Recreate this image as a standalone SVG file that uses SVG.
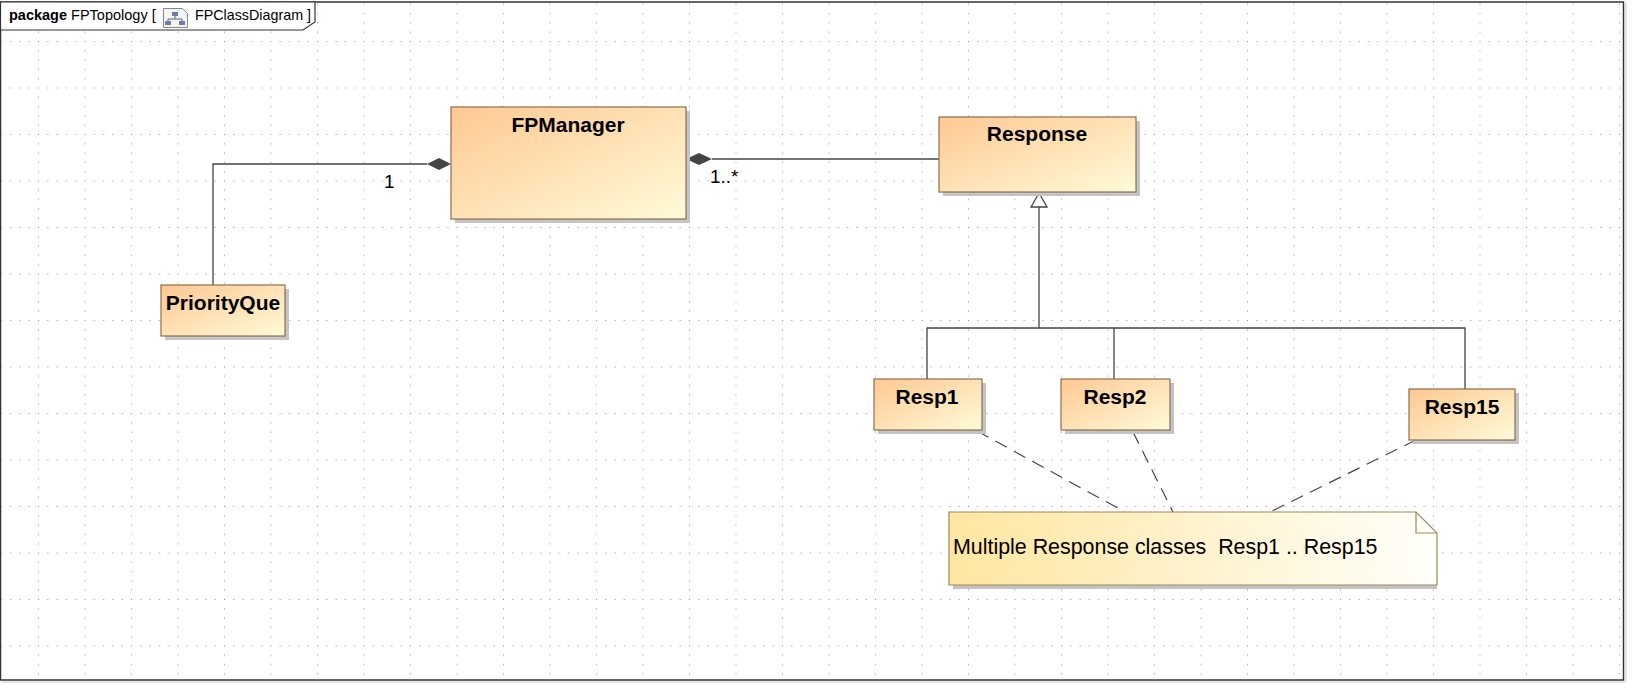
<svg xmlns="http://www.w3.org/2000/svg" width="1640" height="693" viewBox="0 0 1640 693">
<style>
.cls{stroke:#8e6e4e;stroke-width:1.2;fill:url(#cg)}
.sh{fill:#c4c4c4}
.name{font-family:"Liberation Sans",Arial,sans-serif;font-weight:bold;font-size:21px;fill:#000;text-anchor:middle}
.lbl{font-family:"Liberation Sans",Arial,sans-serif;font-size:19px;fill:#000}
.note{font-family:"Liberation Sans",Arial,sans-serif;font-size:21.4px;fill:#000}
.ln{stroke:#444;stroke-width:1.3;fill:none}
.dash{stroke:#444;stroke-width:1.2;fill:none;stroke-dasharray:13,8}
</style>
<defs>
<linearGradient id="cg" x1="0" y1="0" x2="1" y2="1">
<stop offset="0" stop-color="#fec893"/>
<stop offset="1" stop-color="#fffbd8"/>
</linearGradient>
<linearGradient id="ng" x1="0" y1="0" x2="1" y2="0">
<stop offset="0" stop-color="#ffe6a0"/>
<stop offset="1" stop-color="#fffffa"/>
</linearGradient>
<pattern id="grid" patternUnits="userSpaceOnUse" x="38" y="41" width="46.5" height="46.5">
<rect x="0" y="0" width="1" height="1" fill="#8a8a8a"/>
<rect x="9.3" y="0" width="1" height="1" fill="#8a8a8a"/>
<rect x="18.6" y="0" width="1" height="1" fill="#8a8a8a"/>
<rect x="27.9" y="0" width="1" height="1" fill="#8a8a8a"/>
<rect x="37.2" y="0" width="1" height="1" fill="#8a8a8a"/>
<rect x="0" y="9.3" width="1" height="1" fill="#8a8a8a"/>
<rect x="0" y="18.6" width="1" height="1" fill="#8a8a8a"/>
<rect x="0" y="27.9" width="1" height="1" fill="#8a8a8a"/>
<rect x="0" y="37.2" width="1" height="1" fill="#8a8a8a"/>
</pattern>
</defs>
<rect x="0" y="0" width="1640" height="693" fill="#fff"/>
<g id="frame">
<rect x="0.5" y="2" width="1623" height="678" fill="url(#grid)" stroke="#333" stroke-width="1.5"/>
<line x1="1" y1="682" x2="1625" y2="682" stroke="#ddd" stroke-width="1.5"/>
<line x1="1626" y1="3" x2="1626" y2="682" stroke="#ddd" stroke-width="1.5"/>
<polygon points="0.5,2 315,2 315,22 303,30 0.5,30" fill="#fff" stroke="#333" stroke-width="1.2"/>
<text x="9" y="20" font-family="Liberation Sans,Arial,sans-serif" font-size="14.5px"><tspan font-weight="bold">package</tspan> FPTopology [</text>
<g id="icon">
<path d="M163.5,8.5 h19 l5,5 v14 h-24 z" fill="#f4f4f4" stroke="#888" stroke-width="1"/>
<rect x="172" y="12" width="6" height="4" fill="#6a7fa6"/>
<path d="M175,16 v3 M168,19 h14 M168,19 v2 M182,19 v2" stroke="#666" stroke-width="1" fill="none"/>
<rect x="165" y="21" width="6" height="4" fill="#6a7fa6"/>
<rect x="179" y="21" width="6" height="4" fill="#6a7fa6"/>
</g>
<text x="195" y="20" font-family="Liberation Sans,Arial,sans-serif" font-size="14.3px">FPClassDiagram ]</text>
</g>
<g id="connectors">
<polyline class="ln" points="213,285 213,164 427,164"/>
<polygon points="427,164 439,158 451,164 439,170" fill="#444"/>
<line class="ln" x1="712" y1="159" x2="939" y2="159"/>
<polygon points="686,159 699,153 712,159 699,165" fill="#444"/>
<text class="lbl" x="384" y="188">1</text>
<text class="lbl" x="710" y="183">1..*</text>
<polyline class="ln" points="927,379 927,328 1465,328 1465,389"/>
<line class="ln" x1="1114" y1="328" x2="1114" y2="379"/>
<line class="ln" x1="1039" y1="328" x2="1039" y2="207"/>
<polygon points="1039,193 1047,207 1031,207" fill="#fff" stroke="#444" stroke-width="1.3"/>
<line class="dash" x1="977" y1="431" x2="1125" y2="512"/>
<circle cx="977" cy="431" r="3" fill="#444"/>
<line class="dash" x1="1133" y1="432" x2="1173" y2="512"/>
<line class="dash" x1="1416" y1="440" x2="1270" y2="512"/>
</g>
<g id="FPManager">
<rect class="sh" x="455" y="111" width="235" height="112"/>
<rect class="cls" x="451" y="107" width="235" height="112"/>
<text class="name" x="568" y="132">FPManager</text>
</g>
<g id="Response">
<rect class="sh" x="943" y="121" width="197" height="75"/>
<rect class="cls" x="939" y="117" width="197" height="75"/>
<text class="name" x="1037" y="141">Response</text>
</g>
<g id="PriorityQue">
<rect class="sh" x="165" y="289" width="124" height="51"/>
<rect class="cls" x="161" y="285" width="124" height="51"/>
<text class="name" x="223" y="310">PriorityQue</text>
</g>
<g id="Resp1">
<rect class="sh" x="878" y="383" width="108" height="51"/>
<rect class="cls" x="874" y="379" width="108" height="51"/>
<text class="name" x="927" y="404">Resp1</text>
</g>
<g id="Resp2">
<rect class="sh" x="1065" y="383" width="109" height="51"/>
<rect class="cls" x="1061" y="379" width="109" height="51"/>
<text class="name" x="1115" y="404">Resp2</text>
</g>
<g id="Resp15">
<rect class="sh" x="1413" y="393" width="106" height="51"/>
<rect class="cls" x="1409" y="389" width="106" height="51"/>
<text class="name" x="1462" y="414">Resp15</text>
</g>
<g id="note">
<path d="M953,516 h463 l21,21 v52 h-484 z" class="sh"/>
<path d="M949,512 h467 l21,21 v52 h-488 z" fill="url(#ng)" stroke="#9a8a5a" stroke-width="1.2"/>
<path d="M1416,512 v21 h21" fill="none" stroke="#9a8a5a" stroke-width="1.2"/>
<text class="note" x="953" y="554" xml:space="preserve">Multiple Response classes  Resp1 .. Resp15</text>
</g>
</svg>
